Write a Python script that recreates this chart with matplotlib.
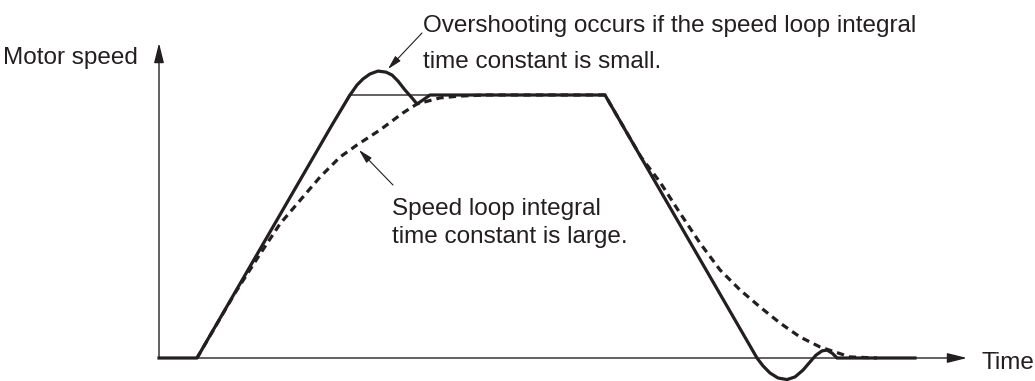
import matplotlib.pyplot as plt

plt.rcParams['font.family'] = ['Liberation Sans', 'DejaVu Sans']

INK = '#231f20'
PX = 2.63  # vertical pixels per % of speed

# speed command (trapezoid): time, speed in % of commanded speed
cmd_t = [38, 190, 446, 598]
cmd_s = [0, 100, 100, 0]

# response with a small speed loop integral time constant (overshoot)
small_t = [0, 38, 173, 191, 198, 204, 211, 219, 227, 233, 239, 246, 253, 258, 264, 271,
           446, 598, 604, 611, 619, 628, 636, 644, 651, 657, 663, 668, 673, 678, 756]
small_s = [0, 0, 88.6, 100, 103.8, 106.1, 108.0, 109.1, 108.7, 107.6, 105.3, 101.9, 98.9, 96.6, 98.1, 100,
           100, 0, -3.0, -5.7, -7.6, -8.2, -7.2, -4.6, -1.5, 1.1, 2.7, 3.0, 1.9, 0, 0]

# response with a large speed loop integral time constant (slow, no overshoot)
large_t = [38, 76, 101, 121, 143, 161, 181, 198, 221, 244, 258, 281, 301, 326,
           446, 482, 501, 521, 541, 561, 581, 601, 621, 641, 661, 691, 718]
large_s = [0, 24.7, 39.5, 51.0, 60.8, 68.8, 76.4, 81.0, 86.7, 93.2, 96.6, 98.9, 99.6, 100,
           100, 76.4, 66.9, 55.1, 43.7, 33.5, 25.9, 19.4, 13.3, 8.0, 4.2, 0.4, 0]


def spd(py):
    # pixel row -> speed value
    return (358 - py) / PX


fig = plt.figure(figsize=(10.35, 3.81), dpi=100)
ax = fig.add_axes([0, 0, 1, 1])
ax.set_xlim(-159, 876)
ax.set_ylim(spd(381), spd(0))
ax.axis('off')

# axes with arrow heads
axis_arrow = dict(arrowstyle='-|>,head_length=1.2,head_width=0.3', lw=1.0, color=INK,
                  shrinkA=0, shrinkB=0, mutation_scale=10)
ax.annotate('', xy=(0, spd(43)), xytext=(0, 0), arrowprops=axis_arrow)
ax.annotate('', xy=(808, 0), xytext=(0, 0), arrowprops=axis_arrow)

ax.plot(cmd_t, cmd_s, color=INK, lw=1.0, solid_joinstyle='miter')
ax.plot(large_t, large_s, color=INK, lw=2.3, dashes=(2.3, 1.6), dash_capstyle='butt')
ax.plot(small_t, small_s, color=INK, lw=2.3, solid_joinstyle='round')

fs = 17.5
ax.text(-21, spd(58), 'Motor speed', fontsize=fs, color=INK, ha='right', va='center')
ax.text(823, spd(363), 'Time', fontsize=fs, color=INK, ha='left', va='center')

ax.text(264, spd(32), 'Overshooting occurs if the speed loop integral',
        fontsize=fs, color=INK, ha='left', va='baseline')
ax.text(264, spd(68), 'time constant is small.',
        fontsize=fs, color=INK, ha='left', va='baseline')
ax.text(233, spd(215), 'Speed loop integral',
        fontsize=fs, color=INK, ha='left', va='baseline')
ax.text(233, spd(243), 'time constant is large.',
        fontsize=fs, color=INK, ha='left', va='baseline')

# leader arrows
lead = dict(arrowstyle='-|>,head_length=0.85,head_width=0.22', lw=0.8, color=INK,
            shrinkA=0, shrinkB=0, mutation_scale=10)
ax.annotate('', xy=(229, spd(69)), xytext=(263, spd(33)), arrowprops=lead)
ax.annotate('', xy=(200, spd(150)), xytext=(234, spd(185)), arrowprops=lead)

fig.savefig('out.png', dpi=100)
